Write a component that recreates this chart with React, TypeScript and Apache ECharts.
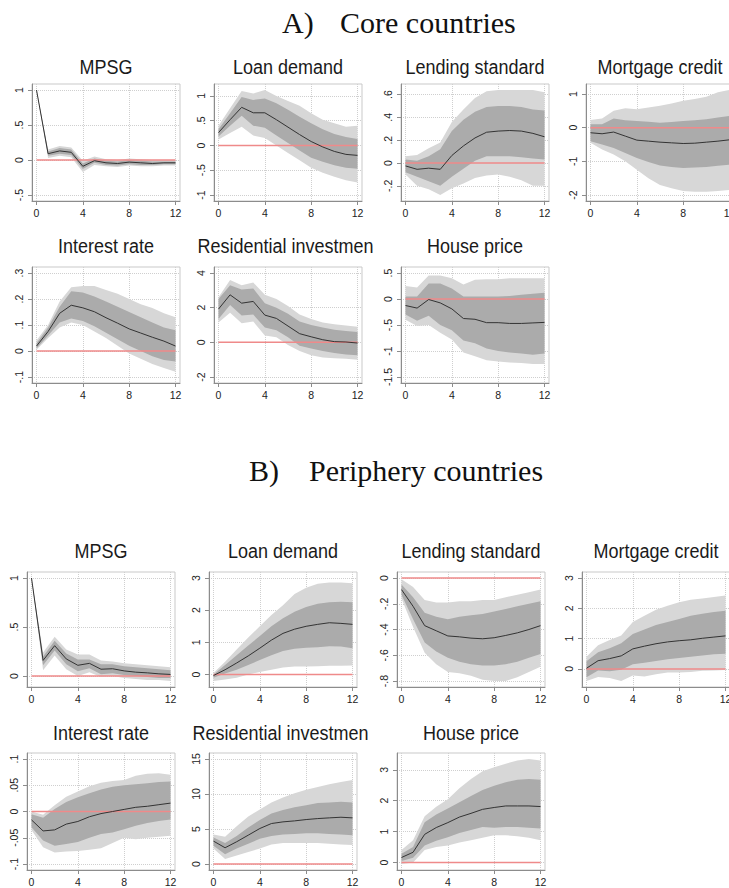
import React, { useEffect, useRef } from "react";
import * as echarts from "echarts";

// Horizons (quarters after the shock) and the x-axis ticks
const horizons = [0, 1, 2, 3, 4, 5, 6, 7, 8, 9, 10, 11, 12];
const xTicks = [0, 4, 8, 12];

const sectionLabels = ["A)", "B)"];
const sectionNames = ["Core countries", "Periphery countries"];

// ---------- A) Core countries ----------
const coreMpsgTicks = [-0.5, 0, 0.5, 1];
const coreMpsgMid = [1.0, 0.09, 0.13, 0.11, -0.09, -0.01, -0.04, -0.05, -0.03, -0.04, -0.05, -0.04, -0.04];
const coreMpsgLo68 = [1.0, 0.06, 0.09, 0.07, -0.13, -0.04, -0.07, -0.08, -0.06, -0.07, -0.07, -0.06, -0.06];
const coreMpsgHi68 = [1.0, 0.12, 0.17, 0.15, -0.05, 0.02, -0.01, -0.02, 0.0, -0.01, -0.02, -0.02, -0.02];
const coreMpsgLo90 = [1.0, 0.03, 0.06, 0.04, -0.17, -0.07, -0.09, -0.1, -0.08, -0.09, -0.09, -0.08, -0.08];
const coreMpsgHi90 = [1.0, 0.15, 0.2, 0.18, -0.01, 0.05, 0.01, 0.0, 0.02, 0.01, 0.0, 0.0, 0.0];

const coreLoanTicks = [-1, -0.5, 0, 0.5, 1];
const coreLoanMid = [0.26, 0.52, 0.77, 0.66, 0.66, 0.52, 0.37, 0.22, 0.08, -0.03, -0.12, -0.18, -0.2];
const coreLoanLo68 = [0.18, 0.4, 0.6, 0.4, 0.36, 0.2, 0.05, -0.1, -0.25, -0.33, -0.4, -0.45, -0.47];
const coreLoanHi68 = [0.33, 0.65, 0.98, 0.92, 0.95, 0.85, 0.72, 0.58, 0.45, 0.33, 0.23, 0.17, 0.13];
const coreLoanLo90 = [0.12, 0.25, 0.38, 0.2, 0.15, 0.0, -0.15, -0.3, -0.45, -0.55, -0.63, -0.7, -0.75];
const coreLoanHi90 = [0.4, 0.75, 1.1, 1.05, 1.12, 1.0, 0.9, 0.8, 0.65, 0.52, 0.45, 0.38, 0.4];

const coreLendTicks = [-0.2, 0, 0.2, 0.4, 0.6];
const coreLendMid = [-0.025, -0.055, -0.045, -0.055, 0.066, 0.15, 0.22, 0.27, 0.28, 0.285, 0.28, 0.26, 0.23];
const coreLendLo68 = [-0.08, -0.12, -0.16, -0.2, -0.12, -0.05, 0.02, 0.06, 0.06, 0.06, 0.05, 0.04, 0.03];
const coreLendHi68 = [0.03, 0.02, 0.06, 0.12, 0.28, 0.38, 0.45, 0.49, 0.5, 0.5, 0.49, 0.47, 0.46];
const coreLendLo90 = [-0.1, -0.2, -0.23, -0.28, -0.22, -0.18, -0.13, -0.11, -0.1, -0.12, -0.15, -0.2, -0.2];
const coreLendHi90 = [0.06, 0.07, 0.13, 0.18, 0.36, 0.47, 0.57, 0.63, 0.64, 0.64, 0.64, 0.64, 0.62];

const coreMortTicks = [-2, -1, 0, 1];
const coreMortMid = [-0.15, -0.18, -0.13, -0.25, -0.37, -0.4, -0.43, -0.45, -0.47, -0.46, -0.43, -0.4, -0.36];
const coreMortLo68 = [-0.4, -0.5, -0.6, -0.75, -0.9, -1.02, -1.12, -1.17, -1.2, -1.18, -1.17, -1.13, -1.1];
const coreMortHi68 = [0.1, 0.1, 0.27, 0.22, 0.2, 0.18, 0.15, 0.17, 0.2, 0.22, 0.25, 0.3, 0.35];
const coreMortLo90 = [-0.45, -0.65, -0.8, -1.0, -1.25, -1.5, -1.7, -1.8, -1.88, -1.9, -1.9, -1.88, -1.85];
const coreMortHi90 = [0.23, 0.27, 0.5, 0.58, 0.55, 0.6, 0.65, 0.72, 0.8, 0.85, 0.92, 1.05, 1.12];

const coreRateTicks = [-0.1, 0, 0.1, 0.2, 0.3];
const coreRateMid = [0.019, 0.075, 0.145, 0.176, 0.166, 0.151, 0.128, 0.107, 0.085, 0.069, 0.053, 0.038, 0.019];
const coreRateLo68 = [0.01, 0.06, 0.11, 0.125, 0.115, 0.095, 0.07, 0.045, 0.02, 0.0, -0.02, -0.035, -0.04];
const coreRateHi68 = [0.03, 0.09, 0.17, 0.23, 0.225, 0.21, 0.19, 0.17, 0.15, 0.13, 0.11, 0.09, 0.08];
const coreRateLo90 = [0.005, 0.05, 0.09, 0.11, 0.1, 0.075, 0.05, 0.02, -0.01, -0.03, -0.05, -0.065, -0.08];
const coreRateHi90 = [0.04, 0.1, 0.19, 0.245, 0.25, 0.25, 0.235, 0.22, 0.2, 0.18, 0.165, 0.145, 0.13];

const coreResTicks = [-2, 0, 2, 4];
const coreResMid = [1.92, 2.74, 2.26, 2.36, 1.57, 1.38, 0.94, 0.5, 0.32, 0.15, 0.04, 0.02, -0.04];
const coreResLo68 = [1.35, 2.15, 1.55, 1.6, 0.85, 0.7, 0.3, -0.2, -0.35, -0.5, -0.62, -0.7, -0.75];
const coreResHi68 = [2.5, 3.3, 3.05, 3.1, 2.25, 2.0, 1.65, 1.2, 1.0, 0.85, 0.72, 0.65, 0.6];
const coreResLo90 = [1.15, 1.7, 1.1, 1.2, 0.4, 0.3, -0.15, -0.5, -0.75, -0.88, -0.92, -0.95, -1.0];
const coreResHi90 = [2.6, 3.6, 3.3, 3.45, 2.75, 2.5, 2.1, 1.6, 1.35, 1.15, 1.05, 0.97, 0.9];

const coreHouseTicks = [-1.5, -1, -0.5, 0, 0.5];
const coreHouseMid = [-0.125, -0.175, -0.01, -0.075, -0.19, -0.375, -0.39, -0.455, -0.455, -0.47, -0.47, -0.46, -0.45];
const coreHouseLo68 = [-0.3, -0.42, -0.32, -0.5, -0.6, -0.8, -0.85, -0.95, -1.0, -1.03, -1.05, -1.07, -1.05];
const coreHouseHi68 = [0.05, 0.05, 0.3, 0.3, 0.2, 0.05, 0.05, 0.05, 0.05, 0.06, 0.08, 0.1, 0.12];
const coreHouseLo90 = [-0.4, -0.52, -0.5, -0.65, -0.78, -1.03, -1.1, -1.18, -1.2, -1.22, -1.23, -1.25, -1.25];
const coreHouseHi90 = [0.25, 0.22, 0.45, 0.45, 0.4, 0.28, 0.37, 0.38, 0.38, 0.4, 0.4, 0.4, 0.4];

// ---------- B) Periphery countries ----------
const periMpsgTicks = [0, 0.5, 1];
const periMpsgMid = [1.0, 0.16, 0.31, 0.175, 0.11, 0.13, 0.07, 0.075, 0.053, 0.04, 0.033, 0.023, 0.017];
const periMpsgLo68 = [1.0, 0.11, 0.26, 0.12, 0.05, 0.08, 0.02, 0.03, 0.01, 0.0, -0.01, -0.02, -0.02];
const periMpsgHi68 = [1.0, 0.2, 0.36, 0.23, 0.17, 0.17, 0.12, 0.12, 0.1, 0.09, 0.08, 0.07, 0.06];
const periMpsgLo90 = [1.0, 0.06, 0.21, 0.07, 0.0, 0.04, -0.01, 0.0, -0.02, -0.03, -0.04, -0.04, -0.05];
const periMpsgHi90 = [1.0, 0.24, 0.4, 0.27, 0.22, 0.22, 0.16, 0.15, 0.13, 0.12, 0.11, 0.1, 0.09];

const periLoanTicks = [0, 1, 2, 3];
const periLoanMid = [-0.03, 0.15, 0.36, 0.58, 0.82, 1.07, 1.28, 1.41, 1.5, 1.56, 1.61, 1.59, 1.56];
const periLoanLo68 = [-0.1, 0.03, 0.15, 0.3, 0.45, 0.6, 0.73, 0.8, 0.83, 0.85, 0.88, 0.87, 0.82];
const periLoanHi68 = [0.0, 0.3, 0.6, 0.9, 1.2, 1.5, 1.75, 1.95, 2.1, 2.2, 2.25, 2.26, 2.25];
const periLoanLo90 = [-0.2, -0.15, -0.1, 0.0, 0.08, 0.15, 0.22, 0.25, 0.25, 0.26, 0.27, 0.27, 0.28];
const periLoanHi90 = [0.05, 0.4, 0.78, 1.15, 1.5, 1.85, 2.15, 2.5, 2.7, 2.82, 2.86, 2.86, 2.84];

const periLendTicks = [-0.8, -0.6, -0.4, -0.2, 0];
const periLendMid = [-0.09, -0.22, -0.37, -0.41, -0.45, -0.457, -0.467, -0.472, -0.464, -0.446, -0.426, -0.4, -0.37];
const periLendLo68 = [-0.13, -0.32, -0.5, -0.57, -0.62, -0.65, -0.67, -0.68, -0.68, -0.67, -0.65, -0.62, -0.59];
const periLendHi68 = [-0.05, -0.15, -0.27, -0.3, -0.32, -0.3, -0.29, -0.28, -0.26, -0.24, -0.22, -0.2, -0.18];
const periLendLo90 = [-0.16, -0.38, -0.58, -0.67, -0.73, -0.74, -0.76, -0.79, -0.8, -0.8, -0.77, -0.73, -0.69];
const periLendHi90 = [-0.01, -0.07, -0.17, -0.19, -0.19, -0.18, -0.18, -0.17, -0.17, -0.15, -0.13, -0.11, -0.09];

const periMortTicks = [0, 1, 2, 3];
const periMortMid = [0.02, 0.27, 0.34, 0.43, 0.66, 0.75, 0.83, 0.89, 0.93, 0.96, 1.01, 1.05, 1.09];
const periMortLo68 = [-0.28, -0.05, -0.08, -0.03, 0.15, 0.2, 0.26, 0.32, 0.36, 0.4, 0.44, 0.48, 0.5];
const periMortHi68 = [0.25, 0.55, 0.68, 0.85, 1.15, 1.3, 1.45, 1.55, 1.65, 1.75, 1.82, 1.88, 1.92];
const periMortLo90 = [-0.4, -0.27, -0.3, -0.4, -0.22, -0.25, -0.18, -0.12, -0.12, -0.1, -0.06, -0.05, -0.04];
const periMortHi90 = [0.4, 0.78, 0.95, 1.1, 1.55, 1.75, 1.95, 2.08, 2.2, 2.28, 2.32, 2.37, 2.42];

const periRateTicks = [-0.1, -0.05, 0, 0.05, 0.1];
const periRateMid = [-0.016, -0.037, -0.035, -0.024, -0.019, -0.01, -0.004, 0.0, 0.004, 0.008, 0.01, 0.013, 0.016];
const periRateLo68 = [-0.03, -0.055, -0.065, -0.062, -0.058, -0.05, -0.043, -0.04, -0.034, -0.027, -0.022, -0.018, -0.015];
const periRateHi68 = [-0.005, -0.012, 0.005, 0.018, 0.027, 0.035, 0.042, 0.047, 0.05, 0.052, 0.054, 0.056, 0.057];
const periRateLo90 = [-0.035, -0.068, -0.078, -0.076, -0.075, -0.073, -0.07, -0.06, -0.05, -0.053, -0.05, -0.048, -0.046];
const periRateHi90 = [0.0, -0.006, 0.012, 0.028, 0.038, 0.048, 0.055, 0.058, 0.06, 0.068, 0.072, 0.073, 0.07];

const periResTicks = [0, 5, 10, 15];
const periResMid = [3.27, 2.32, 3.18, 4.12, 5.07, 5.78, 6.02, 6.16, 6.35, 6.49, 6.59, 6.68, 6.59];
const periResLo68 = [2.6, 1.4, 2.2, 2.9, 3.6, 4.0, 4.2, 4.3, 4.4, 4.4, 4.3, 4.2, 4.1];
const periResHi68 = [3.8, 3.0, 4.0, 5.2, 6.3, 7.2, 7.7, 8.1, 8.4, 8.7, 8.8, 8.9, 8.8];
const periResLo90 = [2.2, 0.7, 1.2, 1.7, 2.2, 2.8, 3.0, 3.0, 3.0, 3.0, 2.9, 2.8, 2.7];
const periResHi90 = [4.2, 3.9, 5.4, 6.8, 7.8, 8.8, 9.5, 10.1, 10.6, 11.0, 11.4, 11.7, 12.0];

const periHouseTicks = [0, 1, 2, 3];
const periHouseMid = [0.16, 0.33, 0.91, 1.13, 1.29, 1.47, 1.59, 1.72, 1.78, 1.83, 1.83, 1.83, 1.81];
const periHouseLo68 = [0.05, 0.15, 0.55, 0.7, 0.82, 0.95, 1.05, 1.15, 1.12, 1.15, 1.15, 1.12, 1.1];
const periHouseHi68 = [0.28, 0.5, 1.3, 1.55, 1.75, 1.95, 2.15, 2.35, 2.48, 2.6, 2.68, 2.7, 2.68];
const periHouseLo90 = [-0.05, 0.0, 0.4, 0.5, 0.55, 0.65, 0.72, 0.8, 0.88, 0.88, 0.85, 0.8, 0.72];
const periHouseHi90 = [0.4, 0.72, 1.5, 1.8, 2.05, 2.4, 2.7, 2.95, 3.08, 3.2, 3.3, 3.35, 3.3];

type Panel = {
  title: string;
  ticks: number[];
  mid: number[];
  lo68: number[];
  hi68: number[];
  lo90: number[];
  hi90: number[];
  section: number;
  row: number;
  col: number;
};

const panels: Panel[] = [
  { title: "MPSG", ticks: coreMpsgTicks, mid: coreMpsgMid, lo68: coreMpsgLo68, hi68: coreMpsgHi68, lo90: coreMpsgLo90, hi90: coreMpsgHi90, section: 0, row: 0, col: 0 },
  { title: "Loan demand", ticks: coreLoanTicks, mid: coreLoanMid, lo68: coreLoanLo68, hi68: coreLoanHi68, lo90: coreLoanLo90, hi90: coreLoanHi90, section: 0, row: 0, col: 1 },
  { title: "Lending standard", ticks: coreLendTicks, mid: coreLendMid, lo68: coreLendLo68, hi68: coreLendHi68, lo90: coreLendLo90, hi90: coreLendHi90, section: 0, row: 0, col: 2 },
  { title: "Mortgage credit", ticks: coreMortTicks, mid: coreMortMid, lo68: coreMortLo68, hi68: coreMortHi68, lo90: coreMortLo90, hi90: coreMortHi90, section: 0, row: 0, col: 3 },
  { title: "Interest rate", ticks: coreRateTicks, mid: coreRateMid, lo68: coreRateLo68, hi68: coreRateHi68, lo90: coreRateLo90, hi90: coreRateHi90, section: 0, row: 1, col: 0 },
  { title: "Residential investment", ticks: coreResTicks, mid: coreResMid, lo68: coreResLo68, hi68: coreResHi68, lo90: coreResLo90, hi90: coreResHi90, section: 0, row: 1, col: 1 },
  { title: "House price", ticks: coreHouseTicks, mid: coreHouseMid, lo68: coreHouseLo68, hi68: coreHouseHi68, lo90: coreHouseLo90, hi90: coreHouseHi90, section: 0, row: 1, col: 2 },
  { title: "MPSG", ticks: periMpsgTicks, mid: periMpsgMid, lo68: periMpsgLo68, hi68: periMpsgHi68, lo90: periMpsgLo90, hi90: periMpsgHi90, section: 1, row: 0, col: 0 },
  { title: "Loan demand", ticks: periLoanTicks, mid: periLoanMid, lo68: periLoanLo68, hi68: periLoanHi68, lo90: periLoanLo90, hi90: periLoanHi90, section: 1, row: 0, col: 1 },
  { title: "Lending standard", ticks: periLendTicks, mid: periLendMid, lo68: periLendLo68, hi68: periLendHi68, lo90: periLendLo90, hi90: periLendHi90, section: 1, row: 0, col: 2 },
  { title: "Mortgage credit", ticks: periMortTicks, mid: periMortMid, lo68: periMortLo68, hi68: periMortHi68, lo90: periMortLo90, hi90: periMortHi90, section: 1, row: 0, col: 3 },
  { title: "Interest rate", ticks: periRateTicks, mid: periRateMid, lo68: periRateLo68, hi68: periRateHi68, lo90: periRateLo90, hi90: periRateHi90, section: 1, row: 1, col: 0 },
  { title: "Residential investment", ticks: periResTicks, mid: periResMid, lo68: periResLo68, hi68: periResHi68, lo90: periResLo90, hi90: periResHi90, section: 1, row: 1, col: 1 },
  { title: "House price", ticks: periHouseTicks, mid: periHouseMid, lo68: periHouseLo68, hi68: periHouseHi68, lo90: periHouseLo90, hi90: periHouseHi90, section: 1, row: 1, col: 2 },
];

// ---------- layout ----------
const WIDTH = 729;
const HEIGHT = 888;
const FRAME_W = 148;
const rowTop = [84, 267, 572, 753];
const rowH = [117, 116, 115, 117];
const rowTitleY = [67, 246, 551, 733];
const colLeft = [
  [32, 214, 401, 586],
  [27, 209, 397, 582],
];
const sectionTitlePos = [
  { labelX: 282, nameX: 340, y: 22 },
  { labelX: 249, nameX: 309, y: 470 },
];

const SANS = "'Liberation Sans', Arial, Helvetica, sans-serif";
const SERIF = "'Liberation Serif', 'Times New Roman', serif";
const BAND90 = "#d7d7d7";
const BAND68 = "#ababab";
const MEDIAN = "#333333";
const ZERO = "#ef8a8a";
const AXIS = "#8c8c8c";

// Stata-style tick labels: no leading zero (".5", "-.05")
function fmtTick(v: number): string {
  return String(v).replace(/^(-?)0\./, "$1.");
}

function bandSeries(idx: number, lo: number[], hi: number[], fill: string, z: number) {
  return {
    type: "custom",
    xAxisIndex: idx,
    yAxisIndex: idx,
    silent: true,
    z,
    data: [[0, 0]],
    renderItem: (_params: any, api: any) => {
      const points: number[][] = [];
      horizons.forEach((h, k) => points.push(api.coord([h, hi[k]])));
      for (let k = horizons.length - 1; k >= 0; k--) {
        points.push(api.coord([horizons[k], lo[k]]));
      }
      return { type: "polygon", shape: { points }, style: { fill } };
    },
  };
}

function buildOption() {
  const grid: any[] = [];
  const xAxis: any[] = [];
  const yAxis: any[] = [];
  const series: any[] = [];
  const graphic: any[] = [];

  panels.forEach((p, i) => {
    const rowIdx = p.section * 2 + p.row;
    const left = colLeft[p.section][p.col];
    const top = rowTop[rowIdx];
    const h = rowH[rowIdx];

    grid.push({
      left,
      top,
      width: FRAME_W,
      height: h,
      show: true,
      backgroundColor: "#ffffff",
      borderColor: "#c9c9c9",
      borderWidth: 1,
      containLabel: false,
      outerBoundsMode: "none",
    });

    const xPad = (12 * 4.5) / (FRAME_W - 9);
    const lo = Math.min(p.ticks[0], ...p.lo90);
    const hi = Math.max(p.ticks[p.ticks.length - 1], ...p.hi90);
    const yPad = ((hi - lo) * 6) / (h - 12);

    xAxis.push({
      type: "value",
      gridIndex: i,
      min: -xPad,
      max: 12 + xPad,
      axisLine: { show: true, onZero: false, lineStyle: { color: AXIS, width: 1 } },
      axisTick: { show: true, length: 4, customValues: xTicks, lineStyle: { color: AXIS } },
      axisLabel: {
        customValues: xTicks,
        formatter: fmtTick,
        fontSize: 10.5,
        fontFamily: SANS,
        color: "#222",
        margin: 6,
      },
      splitLine: { show: true, lineStyle: { color: "#cfcfcf", type: "dotted", width: 1 } },
    });

    yAxis.push({
      type: "value",
      gridIndex: i,
      min: lo - yPad,
      max: hi + yPad,
      axisLine: { show: true, onZero: false, lineStyle: { color: AXIS, width: 1 } },
      axisTick: { show: true, length: 4, customValues: p.ticks, lineStyle: { color: AXIS } },
      axisLabel: {
        customValues: p.ticks,
        formatter: fmtTick,
        rotate: 90,
        fontSize: 10.5,
        fontFamily: SANS,
        color: "#222",
        margin: 8,
      },
      splitLine: { show: true, lineStyle: { color: "#cfcfcf", type: "dotted", width: 1 } },
    });

    series.push(bandSeries(i, p.lo90, p.hi90, BAND90, 2));
    series.push(bandSeries(i, p.lo68, p.hi68, BAND68, 3));
    series.push({
      type: "line",
      xAxisIndex: i,
      yAxisIndex: i,
      data: horizons.map((x) => [x, 0]),
      symbol: "none",
      silent: true,
      z: 4,
      lineStyle: { color: ZERO, width: 1.5 },
    });
    series.push({
      type: "line",
      xAxisIndex: i,
      yAxisIndex: i,
      data: horizons.map((x, k) => [x, p.mid[k]]),
      symbol: "none",
      silent: true,
      z: 5,
      lineStyle: { color: MEDIAN, width: 1 },
    });

    // panel title; a title wider than its panel is cut at the panel edge
    const cx = left + FRAME_W / 2;
    const long = p.title.length > 18;
    const fullW = 181;
    graphic.push({
      type: "text",
      x: long ? cx - fullW / 2 : cx,
      y: rowTitleY[rowIdx],
      scaleY: 1.1,
      silent: true,
      style: {
        text: p.title,
        fontSize: 18,
        fontFamily: SANS,
        fill: "#1a1a1a",
        align: long ? "left" : "center",
        textAlign: long ? "left" : "center",
        verticalAlign: "middle",
        textVerticalAlign: "middle",
        ...(long
          ? { width: 177, height: 22, lineHeight: 22, overflow: "breakAll", lineOverflow: "truncate" }
          : {}),
      },
    });
  });

  sectionTitlePos.forEach((pos, s) => {
    [
      { x: pos.labelX, text: sectionLabels[s] },
      { x: pos.nameX, text: sectionNames[s] },
    ].forEach((t) => {
      graphic.push({
        type: "text",
        x: t.x,
        y: pos.y,
        silent: true,
        style: {
          text: t.text,
          fontSize: 30,
          fontFamily: SERIF,
          fill: "#111",
          align: "left",
          textAlign: "left",
          verticalAlign: "middle",
          textVerticalAlign: "middle",
        },
      });
    });
  });

  return {
    animation: false,
    backgroundColor: "#ffffff",
    textStyle: { fontFamily: SANS },
    grid,
    xAxis,
    yAxis,
    series,
    graphic,
  };
}

export default function App() {
  const ref = useRef<HTMLDivElement | null>(null);

  useEffect(() => {
    document.body.style.margin = "0";
    if (!ref.current) return;
    const chart = echarts.init(ref.current, null, { renderer: "svg" });
    chart.setOption(buildOption() as any);
    return () => chart.dispose();
  }, []);

  return <div ref={ref} style={{ width: WIDTH, height: HEIGHT, overflow: "hidden" }} />;
}
